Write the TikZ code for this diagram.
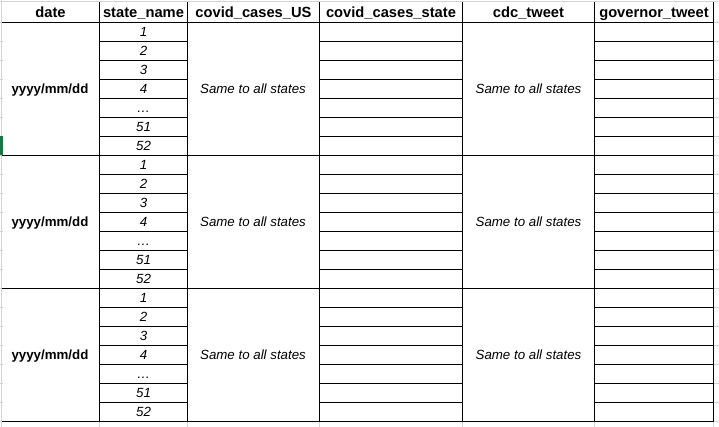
\documentclass[tikz,border=0pt]{standalone}
\usepackage{fontspec}
\setmainfont{Liberation Sans}

\definecolor{sheetgray}{HTML}{D4D4D4}
\definecolor{xlgreen}{HTML}{217346}

\tikzset{
  head/.style={font=\bfseries\fontsize{14.7}{16}\selectfont, inner sep=0pt, anchor=base},
  datecell/.style={font=\bfseries\fontsize{13.3}{15}\selectfont, inner sep=0pt, anchor=base},
  cell/.style={font=\itshape\fontsize{13.3}{15}\selectfont, inner sep=0pt, anchor=base},
  border/.style={line width=1pt, black},
  sheet/.style={line width=1pt, sheetgray}
}

\begin{document}
\begin{tikzpicture}[x=1pt, y=-1pt]
			\useasboundingbox (0,0) rectangle (719,427);
			
			% sheet grid round the table
			\draw[sheet] (0,2) -- (719,2);
			\draw[sheet] (1.5,0) -- (1.5,427);
			\foreach \k in {0,...,21} {
				\draw[sheet] (713.5,22.3+19*\k) -- (719,22.3+19*\k);
				\draw[sheet] (0,22.3+19*\k) -- (3,22.3+19*\k);
			}
			\foreach \x in {99.5,187.5,319.5,462.5,594.5,713.5}
				\draw[sheet] (\x,421.3) -- (\x,427);
			\fill[xlgreen] (0,136) rectangle (2.5,155.3);
			
			% header
			\node[head] (hdate) at (50.5,17.5) {date};
			\node[head] (hstate) at (143.5,17.5) {state\_name};
			\node[head] (hus) at (253.5,17.5) {covid\_cases\_US};
			\node[head] (hcases) at (391,17.5) {covid\_cases\_state};
			\node[head] (hcdc) at (528.5,17.5) {cdc\_tweet};
			\node[head] (hgov) at (654,17.5) {governor\_tweet};
			
			% borders
			\foreach \g in {0,1,2,3}
				\draw[border] (1.5,22.3+133*\g) -- (713.5,22.3+133*\g);
			\foreach \x in {99.5,187.5,319.5,462.5,594.5,713.5}
				\draw[border] (\x,2) -- (\x,421.3);
			\foreach \g in {0,1,2}
				\foreach \k in {1,...,6} {
					\draw[border] (99.5,22.3+133*\g+19*\k) -- (187.5,22.3+133*\g+19*\k);
					\draw[border] (319.5,22.3+133*\g+19*\k) -- (462.5,22.3+133*\g+19*\k);
					\draw[border] (594.5,22.3+133*\g+19*\k) -- (713.5,22.3+133*\g+19*\k);
				}
			
			% one block per date
			\foreach \g in {0,1,2} {
				\node[datecell] (date\g) at (50,22.3+133*\g+71) {yyyy/mm/dd};
				\node[cell] (us\g) at (253,22.3+133*\g+71) {Same to all states};
				\node[cell] (cdc\g) at (528.5,22.3+133*\g+71) {Same to all states};
				\foreach \lab [count=\k from 0] in {1,2,3,4,…,51,52}
					\node[cell] (s\g-\k) at (143.5,22.3+133*\g+19*\k+14.5) {\lab};
			}
			
		\end{tikzpicture}
\end{document}
